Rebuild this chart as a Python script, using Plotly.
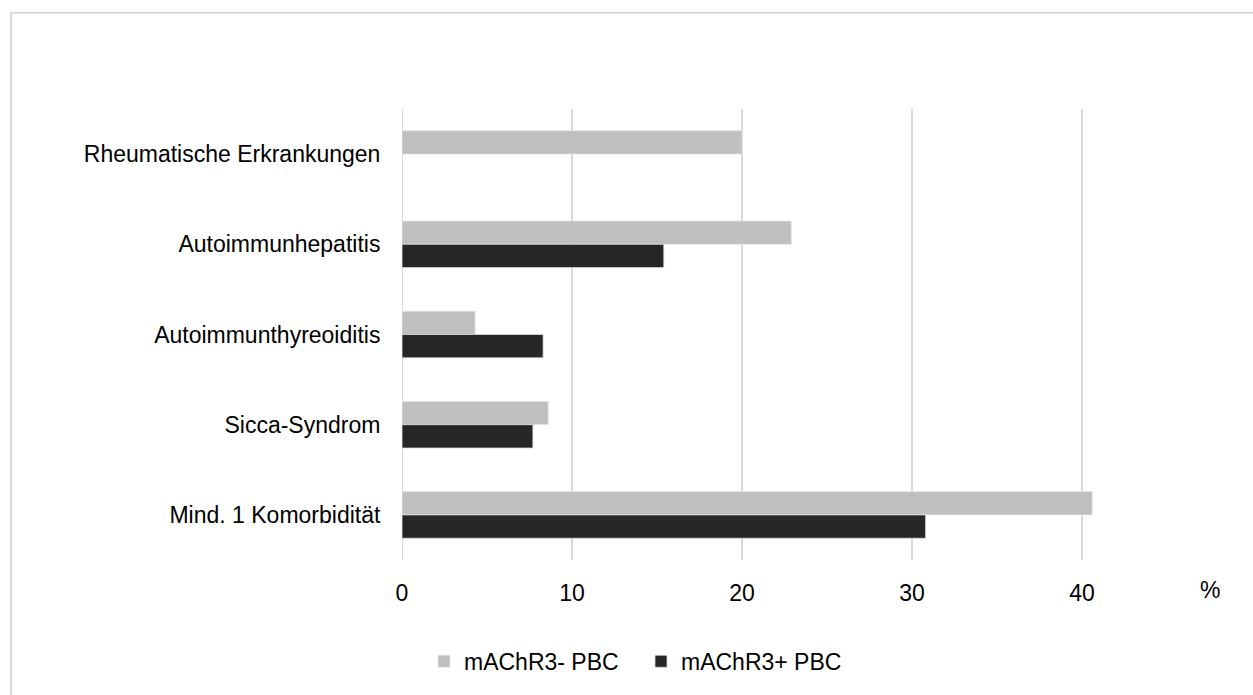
import plotly.graph_objects as go

categories = ["Rheumatische Erkrankungen", "Autoimmunhepatitis", "Autoimmunthyreoiditis",
              "Sicca-Syndrom", "Mind. 1 Komorbidität"]
neg_values = [20.0, 22.9, 4.3, 8.6, 40.6]
pos_values = [0.0, 15.4, 8.3, 7.7, 30.8]
series_names = ["mAChR3- PBC", "mAChR3+ PBC"]
x_ticks = [0, 10, 20, 30, 40]

W, H = 1253, 695
L, R, T, B = 402, 137, 109, 132
pw, ph = W - L - R, H - T - B

FONT = "Liberation Sans, Arial, sans-serif"
FS = 23

fig = go.Figure()
fig.add_trace(go.Bar(y=categories, x=neg_values, name=series_names[0], orientation="h",
                     marker=dict(color="#BFBFBF", line=dict(color="#E6E6E6", width=0.8))))
fig.add_trace(go.Bar(y=categories, x=pos_values, name=series_names[1], orientation="h",
                     marker=dict(color="#262626", line=dict(color="#D9D9D9", width=0.8))))

def px_x(p):
    return (p - L) / pw

def px_y(p):
    return (H - B - p) / ph

fig.update_layout(
    width=W, height=H,
    margin=dict(l=L, r=R, t=T, b=B, pad=0),
    paper_bgcolor="white", plot_bgcolor="white",
    barmode="group", bargap=0.483, bargroupgap=0,
    font=dict(family=FONT, size=FS, color="#000000"),
    xaxis=dict(range=[0, 42], tickvals=x_ticks, showgrid=True, gridcolor="#D9D9D9", gridwidth=2,
               zeroline=False, showline=False, ticks="outside", ticklen=12, tickcolor="rgba(0,0,0,0)",
               tickfont=dict(size=FS)),
    yaxis=dict(autorange="reversed", showgrid=False, zeroline=False, showline=False,
               ticks="outside", ticklen=16, tickcolor="rgba(0,0,0,0)", tickfont=dict(size=FS)),
    legend=dict(orientation="h", x=px_x(424), xanchor="left", y=px_y(665), yanchor="middle",
                font=dict(size=FS), traceorder="normal", itemwidth=30,
                entrywidth=172, entrywidthmode="pixels"),
    showlegend=True,
    shapes=[
        dict(type="line", xref="x", yref="paper", x0=0, x1=0, y0=0, y1=1,
             line=dict(color="#D9D9D9", width=2), layer="below"),
        dict(type="rect", xref="paper", yref="paper", x0=px_x(11), x1=px_x(1265),
             y0=px_y(710), y1=px_y(12), line=dict(color="#D9D9D9", width=2),
             fillcolor="rgba(0,0,0,0)", layer="below"),
    ],
    annotations=[
        dict(text="%", xref="paper", yref="paper", x=px_x(1210), y=px_y(593),
             xanchor="center", yanchor="middle", showarrow=False, font=dict(size=FS)),
    ],
)

fig.write_html("out.html")
